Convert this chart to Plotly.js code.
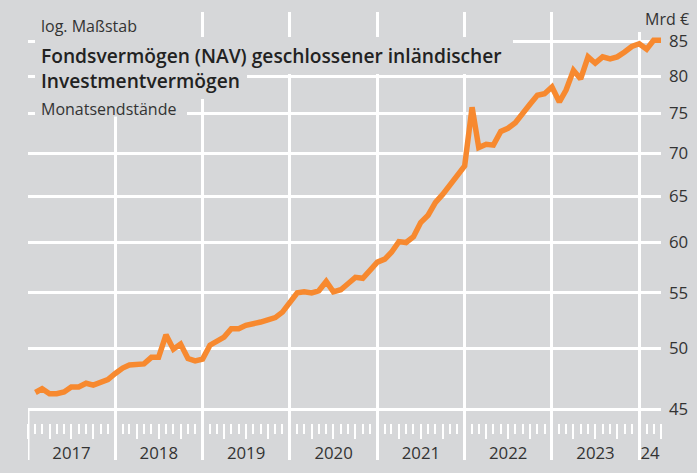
<!DOCTYPE html>
<html>
<head>
<meta charset="utf-8">
<script src="https://cdn.plot.ly/plotly-3.0.1.min.js"></script>
<style>
  html, body { margin: 0; padding: 0; background: #d6d7d9; }
  #chart { width: 697px; height: 473px; }
</style>
</head>
<body>
<div id="chart"></div>
<script>
// ---- data (monthly end-of-month values, bn EUR) ----
const years = [2017, 2018, 2019, 2020, 2021, 2022, 2023, 2024];
const yearLabels = ['2017', '2018', '2019', '2020', '2021', '2022', '2023', '24'];
const nav2017 = [46.3, 46.6, 46.2, 46.2, 46.35, 46.75, 46.75, 47.05, 46.9, 47.1, 47.35, 47.85];
const nav2018 = [48.3, 48.55, 48.6, 48.65, 49.2, 49.2, 51.15, 49.9, 50.35, 49.1, 48.9, 49.05];
const nav2019 = [50.25, 50.65, 50.95, 51.7, 51.7, 52.0, 52.1, 52.3, 52.5, 52.7, 53.2, 54.1];
const nav2020 = [55.0, 55.1, 55.0, 55.2, 56.1, 55.1, 55.3, 55.9, 56.5, 56.4, 57.2, 58.0];
const nav2021 = [58.3, 59.0, 60.1, 60.0, 60.6, 62.1, 62.9, 64.3, 65.2, 66.3, 67.6, 68.5];
const nav2022 = [75.8, 70.7, 71.1, 71.0, 72.7, 73.1, 73.8, 74.9, 76.2, 77.4, 77.6, 78.5];
const nav2023 = [76.5, 78.1, 80.8, 79.6, 82.7, 81.8, 82.7, 82.4, 82.7, 83.4, 84.2, 84.6];
const nav2024 = [83.8, 85.1, 85.1];
const yTicks = [45, 50, 55, 60, 65, 70, 75, 80, 85];

// ---- build series ----
const navByYear = [nav2017, nav2018, nav2019, nav2020, nav2021, nav2022, nav2023, nav2024];
const xs = [], ys = [];
navByYear.forEach((arr, k) => {
  arr.forEach((v, m) => {
    // month-end position = first day of following month
    xs.push(new Date(Date.UTC(years[k], m + 1, 1)).toISOString().slice(0, 10));
    ys.push(v);
  });
});
const iso = (y, m, d) => new Date(Date.UTC(y, m, d)).toISOString().slice(0, 10);
const xStart = iso(years[0], 0, 1);
const xEnd = iso(years[years.length - 1], nav2024.length, 1);
const yearStarts = years.slice(1).map(y => iso(y, 0, 1));
const yearMids = years.map((y, k) => {
  const a = Date.UTC(y, 0, 1);
  const b = Math.min(Date.UTC(y + 1, 0, 1), Date.parse(xEnd));
  return new Date((a + b) / 2).toISOString().slice(0, 10);
});

// ---- styling / geometry ----
const BG = '#d6d7d9', ORANGE = '#f7892f', TXT = '#333333', FONT = 'Open Sans, Noto Sans, sans-serif';
const W = 697, H = 473, L = 28, R = 36, T = 12, B = 13;
const PW = W - L - R, PH = H - T - B;
const px = x => (x - L) / PW;
const py = y => (H - B - y) / PH;
const yr = [Math.log10(45) - 51 / 1332.3, Math.log10(85) + 29 / 1332.3];

const box = (x0, y0, x1, y1) => ({
  type: 'rect', xref: 'paper', yref: 'paper', layer: 'above',
  x0: px(x0), x1: px(x1), y0: py(y1), y1: py(y0),
  fillcolor: BG, line: { width: 0 }
});

const traces = [
  { x: xs, y: ys, type: 'scatter', mode: 'lines', line: { color: ORANGE, width: 5.5 },
    hoverinfo: 'skip', showlegend: false },
  { x: [], y: [], xaxis: 'x2', yaxis: 'y', type: 'scatter', showlegend: false, hoverinfo: 'skip' },
  { x: [], y: [], xaxis: 'x3', yaxis: 'y', type: 'scatter', showlegend: false, hoverinfo: 'skip' }
];

const layout = {
  width: W, height: H,
  margin: { l: L, r: R, t: T, b: B, pad: 0 },
  paper_bgcolor: BG, plot_bgcolor: BG,
  font: { family: FONT, color: TXT, size: 16 },
  showlegend: false,
  xaxis: {
    type: 'date', range: [xStart, xEnd], tickmode: 'array', tickvals: yearStarts,
    showgrid: true, gridcolor: '#ffffff', gridwidth: 3, showticklabels: false,
    ticks: '', showline: false, zeroline: false, fixedrange: true
  },
  xaxis2: {
    type: 'date', overlaying: 'x', anchor: 'free', position: py(423), side: 'bottom',
    range: [xStart, xEnd], tickmode: 'linear', tick0: xStart, dtick: 'M3',
    ticks: 'outside', ticklen: 15, tickwidth: 2, tickcolor: '#ffffff',
    minor: { tickmode: 'linear', tick0: xStart, dtick: 'M1', ticks: 'outside', ticklen: 10, tickwidth: 2, tickcolor: '#ffffff', showgrid: false },
    showgrid: false, showticklabels: false, showline: false, zeroline: false, fixedrange: true
  },
  xaxis3: {
    type: 'date', overlaying: 'x', anchor: 'free', position: py(441.5), side: 'bottom',
    range: [xStart, xEnd], tickmode: 'array', tickvals: yearMids, ticktext: yearLabels,
    ticks: '', showgrid: false, showline: false, zeroline: false, fixedrange: true,
    tickfont: { family: FONT, size: 16.8, color: TXT }
  },
  yaxis: {
    type: 'log', range: yr, side: 'right', tickmode: 'array', tickvals: yTicks,
    ticktext: yTicks.map(String), showgrid: true, gridcolor: '#ffffff', gridwidth: 3,
    ticks: '', showline: false, zeroline: false, fixedrange: true,
    tickfont: { family: FONT, size: 16.8, color: TXT }, ticklabelstandoff: 7
  },
  shapes: [
    { type: 'line', xref: 'x', yref: 'paper', x0: xStart, x1: xStart, y0: 0, y1: py(409),
      line: { color: '#ffffff', width: 3 }, layer: 'below' },
    box(35, 0, 148, 37),
    box(35, 37, 513, 74),
    box(35, 74, 247, 99),
    box(35, 99, 187, 116.5),
    box(634, 0, 697, 32)
  ],
  annotations: [
    { text: 'log. Maßstab', xref: 'paper', yref: 'paper', x: px(39), y: py(25.5), xanchor: 'left', yanchor: 'middle',
      showarrow: false, font: { family: FONT, size: 16, color: TXT } },
    { text: 'Fondsvermögen (NAV) geschlossener inländischer<br>Investmentvermögen', xref: 'paper', yref: 'paper',
      x: px(39), y: py(68), xanchor: 'left', yanchor: 'middle', align: 'left',
      showarrow: false, font: { family: FONT, size: 19.2, color: '#222222', weight: 600 } },
    { text: 'Monatsendstände', xref: 'paper', yref: 'paper', x: px(39), y: py(108.5), xanchor: 'left', yanchor: 'middle',
      showarrow: false, font: { family: FONT, size: 16, color: TXT } },
    { text: 'Mrd €', xref: 'paper', yref: 'paper', x: px(691), y: py(19), xanchor: 'right', yanchor: 'middle',
      showarrow: false, font: { family: FONT, size: 16, color: TXT } }
  ]
};

Plotly.newPlot('chart', traces, layout, { displayModeBar: false, staticPlot: true });
</script>
</body>
</html>
